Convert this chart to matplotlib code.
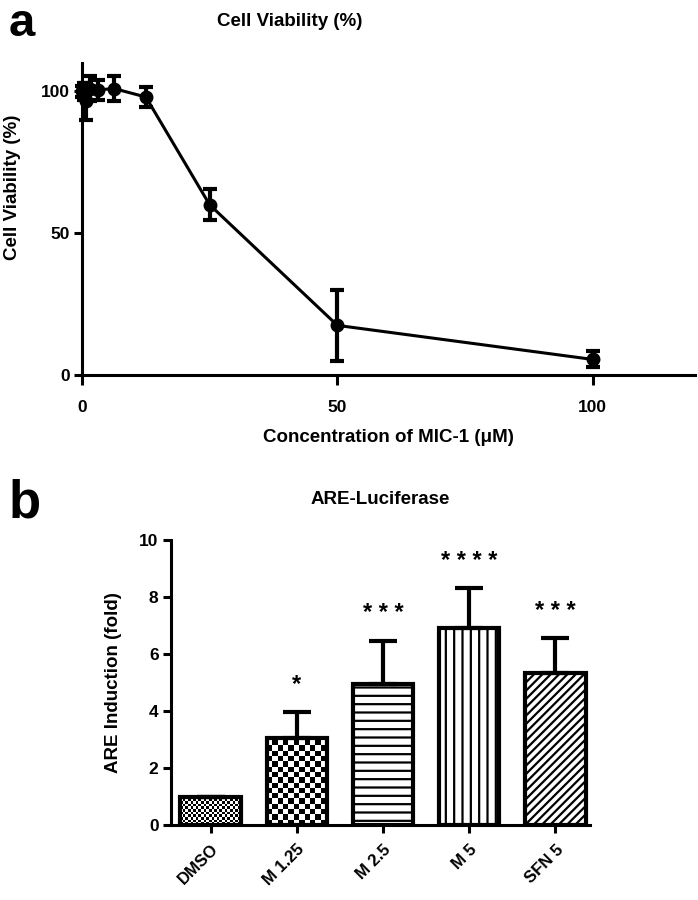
import numpy as np
import matplotlib
matplotlib.use("Agg")
import matplotlib.pyplot as plt

plt.rcParams['font.family'] = ['Liberation Sans', 'DejaVu Sans']
plt.rcParams['font.weight'] = 'bold'
plt.rcParams['hatch.linewidth'] = 1.6

# ---- panel a data ----
conc = [0, 0.39, 0.78, 1.56, 3.125, 6.25, 12.5, 25, 50, 100]
viability = [100, 100, 96.5, 101, 100.5, 101, 98, 60, 17.5, 5.5]
viability_err = [2, 3, 6.5, 4.5, 3.5, 4.5, 3.5, 5.5, 12.5, 2.8]
a_xticks = [0, 50, 100]
a_yticks = [0, 50, 100]

# ---- panel b data ----
groups = ["DMSO", "M 1.25", "M 2.5", "M 5", "SFN 5"]
induction = [1.0, 3.05, 4.95, 6.9, 5.33]
induction_err = [0.0, 0.93, 1.52, 1.4, 1.22]
stars = ["", "*", "* * *", "* * * *", "* * *"]
b_yticks = [0, 2, 4, 6, 8, 10]

fig = plt.figure(figsize=(6.98, 9.0), dpi=100)

# ================= panel a =================
ax1 = fig.add_axes([0.1175, 0.5833, 0.878, 0.3467])
ax1.errorbar(conc, viability, yerr=viability_err, fmt='-o', color='black',
             lw=2.2, ms=9, elinewidth=3, capsize=5, capthick=3,
             clip_on=False, zorder=3)
ax1.set_xlim(0, 120)
ax1.set_ylim(0, 110)
ax1.set_xticks(a_xticks)
ax1.set_yticks(a_yticks)
for s in ['top', 'right']:
    ax1.spines[s].set_visible(False)
for s in ['left', 'bottom']:
    ax1.spines[s].set_linewidth(2.2)
ax1.tick_params(axis='x', length=7, width=2.2, pad=11, labelsize=12.5)
ax1.tick_params(axis='y', length=6, width=2.2, pad=3, labelsize=12.5)
for lab in ax1.get_xticklabels() + ax1.get_yticklabels():
    lab.set_fontweight('bold')
fig.text(290 / 698, 1 - 22 / 900, "Cell Viability (%)", fontsize=13.5,
         fontweight='bold', ha='center', va='center')
ax1.set_xlabel("Concentration of MIC-1 (μM)", fontsize=13.5, fontweight='bold', labelpad=10)
ax1.set_ylabel("Cell Viability (%)", fontsize=13.5, fontweight='bold')
ax1.yaxis.set_label_coords(-0.10, 0.60)
fig.text(0.012, 0.96, "a", fontsize=34, fontweight='bold', ha='left', va='baseline')

# ================= panel b =================
ax2 = fig.add_axes([0.245, 0.0833, 0.6, 0.3167])
ax2.set_xlim(-0.46, 4.4)
ax2.set_ylim(0, 10)
pos = np.arange(len(groups))
width = 0.7
hatches = [None, None, '--', '||', '////']
faces = ['none', 'none', 'white', 'white', 'white']
bars = ax2.bar(pos, induction, width=width, color=faces, edgecolor='black',
               linewidth=3, zorder=2)
for b, h in zip(bars, hatches):
    if h:
        b.set_hatch(h)

# checkerboard fills for first two bars
p0 = ax2.transData.transform((0, 0))
p1 = ax2.transData.transform((1, 1))
pxu_x = p1[0] - p0[0]
pxu_y = p1[1] - p0[1]
for i, sq in [(0, 2.6), (1, 5.3)]:
    x0 = pos[i] - width / 2
    w_px = width * pxu_x
    h_px = induction[i] * pxu_y
    nx = int(np.ceil(w_px / sq)) + 1
    ny = int(np.ceil(h_px / sq)) + 1
    yy, xx = np.mgrid[0:ny, 0:nx]
    board = ((xx + yy) % 2).astype(float)
    im = ax2.imshow(board, cmap='gray', vmin=0, vmax=1, origin='lower',
                    extent=(x0, x0 + nx * sq / pxu_x, 0, ny * sq / pxu_y),
                    interpolation='nearest', aspect='auto', zorder=1)
    im.set_clip_path(bars[i])
ax2.set_xlim(-0.46, 4.4)
ax2.set_ylim(0, 10)

ax2.errorbar(pos, induction, yerr=[np.zeros(len(pos)), induction_err], fmt='none',
             ecolor='black', elinewidth=3, capsize=10, capthick=3, zorder=3)
for i in range(len(groups)):
    if stars[i]:
        ax2.text(pos[i], induction[i] + induction_err[i] + 0.95, stars[i],
                 ha='center', va='center', fontsize=17, fontweight='bold')

for s in ['top', 'right']:
    ax2.spines[s].set_visible(False)
for s in ['left', 'bottom']:
    ax2.spines[s].set_linewidth(2.2)
ax2.set_yticks(b_yticks)
ax2.set_xticks(pos)
ax2.set_xticklabels(groups, rotation=45, ha='right', rotation_mode='anchor')
ax2.tick_params(axis='x', length=6, width=2.2, pad=6, labelsize=12)
ax2.tick_params(axis='y', length=6, width=2.2, pad=3, labelsize=12.5)
for lab in ax2.get_xticklabels() + ax2.get_yticklabels():
    lab.set_fontweight('bold')
ax2.set_title("ARE-Luciferase", fontsize=13.5, fontweight='bold', pad=26)
ax2.set_ylabel("ARE Induction (fold)", fontsize=13.5, fontweight='bold', labelpad=12)
fig.text(0.012, 0.425, "b", fontsize=38, fontweight='bold', ha='left', va='baseline')

fig.savefig("out.png", dpi=100)
